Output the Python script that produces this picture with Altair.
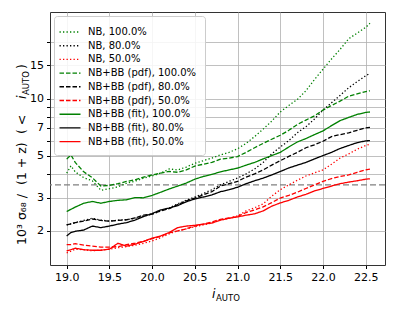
import altair as alt
import pandas as pd

# ---------------- data ----------------
X_MAG = [19.0, 19.05, 19.1, 19.2, 19.3, 19.4, 19.5, 19.6, 19.7, 19.8, 19.9,
         20.0, 20.1, 20.2, 20.3, 20.4, 20.5, 20.6, 20.7, 20.8, 20.9,
         21.0, 21.1, 21.2, 21.3, 21.4, 21.5, 21.6, 21.7, 21.8, 21.9,
         22.0, 22.1, 22.2, 22.3, 22.4, 22.5, 22.55]

NB_100 = [4.04, 4.41, 4.10, 3.82, 3.68, 3.28, 3.34, 3.42, 3.57, 3.66, 3.80,
          3.90, 4.04, 4.25, 4.20, 4.35, 4.55, 4.70, 4.85, 5.04, 5.20,
          5.43, 5.80, 6.30, 6.90, 7.60, 8.50, 9.20, 9.90, 11.0, 12.6,
          14.3, 16.2, 18.2, 20.7, 22.2, 23.8, 25.0]
NB_80 = [2.15, 2.18, 2.21, 2.27, 2.33, 2.28, 2.25, 2.28, 2.29, 2.33, 2.40,
         2.45, 2.55, 2.64, 2.78, 2.90, 3.02, 3.15, 3.30, 3.50, 3.65,
         3.80, 4.00, 4.25, 4.60, 5.10, 5.55, 6.00, 6.60, 7.10, 7.80,
         8.70, 9.50, 10.4, 11.4, 12.3, 13.2, 13.6]
NB_50 = [1.53, 1.56, 1.60, 1.59, 1.57, 1.58, 1.60, 1.63, 1.65, 1.68, 1.72,
         1.77, 1.84, 1.93, 2.00, 2.05, 2.10, 2.15, 2.20, 2.28, 2.33,
         2.40, 2.55, 2.65, 2.78, 3.05, 3.30, 3.50, 3.70, 3.90, 4.05,
         4.20, 4.50, 4.85, 5.10, 5.40, 5.65, 5.75]
PDF_100 = [4.79, 5.04, 4.60, 4.10, 3.82, 3.45, 3.48, 3.55, 3.65, 3.72, 3.85,
           3.95, 4.04, 4.12, 4.08, 4.20, 4.40, 4.50, 4.60, 4.79, 4.85,
           4.94, 5.20, 5.50, 5.80, 6.10, 6.40, 6.80, 7.30, 7.70, 8.10,
           8.70, 9.20, 9.70, 10.3, 10.6, 10.9, 11.0]
PDF_80 = [2.15, 2.18, 2.21, 2.25, 2.31, 2.27, 2.25, 2.27, 2.29, 2.34, 2.42,
          2.45, 2.55, 2.62, 2.75, 2.88, 2.98, 3.10, 3.22, 3.45, 3.55,
          3.65, 3.85, 4.00, 4.20, 4.45, 4.70, 4.95, 5.20, 5.50, 5.70,
          5.95, 6.30, 6.45, 6.60, 6.80, 7.00, 7.05]
PDF_50 = [1.69, 1.69, 1.71, 1.68, 1.66, 1.64, 1.64, 1.65, 1.69, 1.72, 1.76,
          1.82, 1.87, 1.95, 2.00, 2.05, 2.12, 2.17, 2.23, 2.30, 2.34,
          2.38, 2.50, 2.58, 2.68, 2.82, 2.98, 3.08, 3.20, 3.35, 3.50,
          3.65, 3.78, 3.88, 3.95, 4.08, 4.20, 4.24]
FIT_100 = [2.53, 2.60, 2.67, 2.80, 2.86, 2.80, 2.86, 2.90, 2.92, 3.00, 2.99,
           3.08, 3.20, 3.33, 3.45, 3.58, 3.75, 3.88, 3.98, 4.10, 4.20,
           4.29, 4.45, 4.60, 4.80, 5.00, 5.20, 5.55, 5.90, 6.15, 6.45,
           6.75, 7.20, 7.65, 7.95, 8.25, 8.45, 8.50]
FIT_80 = [1.88, 1.96, 1.99, 2.02, 2.12, 2.08, 2.12, 2.17, 2.21, 2.28, 2.38,
          2.47, 2.58, 2.64, 2.72, 2.85, 2.95, 3.02, 3.10, 3.22, 3.30,
          3.40, 3.55, 3.68, 3.80, 3.95, 4.12, 4.30, 4.45, 4.60, 4.80,
          5.00, 5.20, 5.45, 5.65, 5.85, 5.98, 6.00]
FIT_50 = [1.57, 1.59, 1.62, 1.59, 1.58, 1.58, 1.60, 1.72, 1.66, 1.70, 1.76,
          1.83, 1.88, 1.96, 2.08, 2.12, 2.14, 2.17, 2.20, 2.28, 2.33,
          2.37, 2.42, 2.46, 2.55, 2.70, 2.81, 2.90, 3.02, 3.12, 3.25,
          3.35, 3.45, 3.55, 3.62, 3.68, 3.75, 3.77]

SERIES = ["NB, 100.0%", "NB, 80.0%", "NB, 50.0%",
          "NB+BB (pdf), 100.0%", "NB+BB (pdf), 80.0%", "NB+BB (pdf), 50.0%",
          "NB+BB (fit), 100.0%", "NB+BB (fit), 80.0%", "NB+BB (fit), 50.0%"]
VALUES = [NB_100, NB_80, NB_50, PDF_100, PDF_80, PDF_50, FIT_100, FIT_80, FIT_50]

THRESHOLD = [3.5]
X_TICKS = [19.0, 19.5, 20.0, 20.5, 21.0, 21.5, 22.0, 22.5]
Y_TICKS = [2, 3, 4, 5, 6, 7, 8, 9, 10, 15, 20]
Y_LABELED = [2, 3, 5, 7, 10, 15]

# ---------------- styles ----------------
COLORS = ["#008000", "#000000", "#ff0000"] * 3
DASHES = [[1.3, 2.2]] * 3 + [[4.5, 2]] * 3 + [[1, 0]] * 3
FONT = "DejaVu Sans"

rows = []
for name, vals in zip(SERIES, VALUES):
    for x, v in zip(X_MAG, vals):
        rows.append({"mag": x, "sigma": v, "series": name})
df = pd.DataFrame(rows)

W, H = 335, 253
xscale = alt.Scale(domain=[18.805, 22.726], nice=False, zero=False)
yscale = alt.Scale(type="log", domain=[1.32, 28.7], nice=False)

legend = alt.Legend(title=None, orient="top-left", offset=4,
                    symbolType="M-1.5,0H1.5", symbolSize=196, symbolStrokeWidth=1.4,
                    labelFontSize=10, labelFont=FONT, labelColor="#000",
                    rowPadding=0.7, labelOffset=10, padding=8,
                    fillColor="rgba(255,255,255,0.85)", strokeColor="#cccccc",
                    cornerRadius=3)

rule = alt.Chart(pd.DataFrame({"y": THRESHOLD})).mark_rule(
    color="#808080", strokeDash=[6, 3], strokeWidth=1.3
).encode(y=alt.Y("y:Q", scale=yscale))

labeled = ",".join(str(v) for v in Y_LABELED)
lines = alt.Chart(df).mark_line(strokeWidth=1.3).encode(
    x=alt.X("mag:Q", scale=xscale,
            axis=alt.Axis(values=X_TICKS, format=".1f", title=None)),
    y=alt.Y("sigma:Q", scale=yscale,
            axis=alt.Axis(values=Y_TICKS, title=None,
                          labelExpr="indexof([" + labeled + "], datum.value) >= 0 ? format(datum.value, 'd') : ''")),
    color=alt.Color("series:N", scale=alt.Scale(domain=SERIES, range=COLORS), legend=legend),
    strokeDash=alt.StrokeDash("series:N", scale=alt.Scale(domain=SERIES, range=DASHES), legend=legend),
    order=alt.Order("mag:Q"),
)

def txt(text, x, y, size=12.5, angle=0, style="normal", align="left"):
    kw = dict(text=text, font=FONT, fontSize=size, fontStyle=style, align=align,
              baseline="alphabetic", color="#000")
    if angle:
        kw["angle"] = angle
    return alt.Chart(pd.DataFrame({"a": [0]})).mark_text(**kw).encode(
        x=alt.value(x), y=alt.value(y))

titles = [
    txt("10³ σ₆₈ /", -24, 233, angle=270),
    txt("(1 + z)", -24, 173, angle=270),
    txt("( <", -24, 122, angle=270),
    txt("i", -24, 87, angle=270, style="italic"),
    txt("AUTO", -21, 83, size=8.5, angle=270),
    txt(")", -24, 57, angle=270),
    txt("i", 162, 286, style="italic"),
    txt("AUTO", 166, 289, size=8.5),
]

chart = alt.layer(rule, lines, *titles).properties(
    width=W, height=H,
    autosize=alt.AutoSizeParams(type="none"),
    padding={"left": 42, "top": 4, "right": 15, "bottom": 40},
).configure_view(
    stroke="#333333", strokeWidth=1
).configure_axis(
    domain=False, labelFont=FONT, labelFontSize=11, labelColor="#000",
    tickColor="#000", tickSize=3.5, labelPadding=3,
    gridColor="#b0b0b0", gridWidth=0.8,
)

chart.save("out.html", embed_options={"renderer": "svg", "actions": False})
